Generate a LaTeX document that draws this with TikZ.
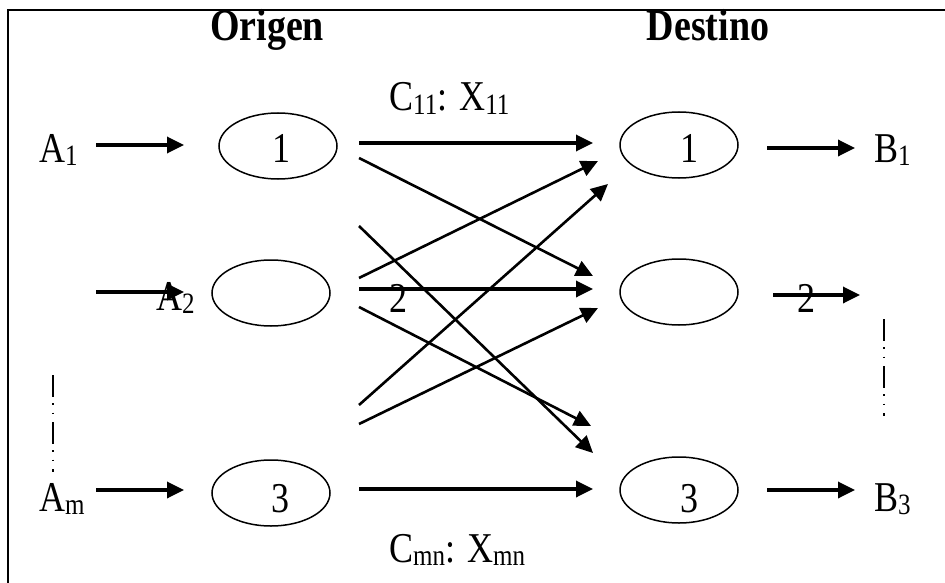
\documentclass[tikz,border=0pt]{standalone}
\usepackage{fontspec}
\usepackage{graphicx}
\setmainfont{Liberation Serif}
\usetikzlibrary{arrows.meta,shapes.geometric}
\newcommand\tallt[1]{\scalebox{1}[1.18]{#1}}
\newcommand\lowsub[1]{\raisebox{-0.08em}{\fontsize{25}{25}\selectfont #1}}
\begin{document}
\begin{tikzpicture}[x=1pt,y=-1pt,
  txt/.style={font=\fontsize{36}{40}\selectfont, inner sep=0pt},
  ttl/.style={font=\fontsize{38}{40}\selectfont\bfseries, inner sep=0pt},
  oval/.style={draw, ellipse, line width=1.5pt, minimum width=118pt, minimum height=66pt, inner sep=0pt},
  harr/.style={line width=3.4pt, -{Triangle[length=17pt,width=16pt]}},
  darr/.style={line width=2.6pt, -{Triangle[length=17pt,width=16pt]}},
  vdots/.style={line width=1.5pt, dash pattern=on 22pt off 6pt on 1.5pt off 8pt on 1.5pt off 8pt}]
\useasboundingbox (0,0) rectangle (945,583);
\draw[line width=2.5pt] (8,583) -- (8,10) -- (945,10);
% titles
\node[ttl, anchor=base] (torig) at (267,41) {\tallt{Origen}};
\node[ttl, anchor=base] (tdest) at (708,41) {\tallt{Destino}};
\node[txt, anchor=base west] (c11) at (389,111) {\tallt{C\lowsub{11}: X\lowsub{11}}};
\node[txt, anchor=base west] (cmn) at (389,562) {\tallt{C\lowsub{mn}: X\lowsub{mn}}};
% ellipses
\node[oval] (o1) at (278,146) {};
\node[oval] (o2) at (271,293) {};
\node[oval] (o3) at (271,493) {};
\node[oval] (d1) at (679,145) {};
\node[oval] (d2) at (679,292) {};
\node[oval] (d3) at (679,490) {};
\node[txt, anchor=base] (o1n) at (281,162) {\tallt{1}};
\node[txt, anchor=base] (o3n) at (280,512) {\tallt{3}};
\node[txt, anchor=base] (d1n) at (689,162) {\tallt{1}};
\node[txt, anchor=base] (d3n) at (689,512) {\tallt{3}};
\node[txt, anchor=base] (m2) at (398,312) {\tallt{2}};
\node[txt, anchor=base] (r2) at (806,312) {\tallt{2}};
% left labels
\node[txt, anchor=base west] (a1) at (39,162) {\tallt{A\lowsub{1}}};
\node[txt, anchor=base west] (a2) at (156,310) {\tallt{A\lowsub{2}}};
\node[txt, anchor=base west] (am) at (39,511) {\tallt{A\lowsub{m}}};
\node[txt, anchor=base west] (b1) at (874,162) {\tallt{B\lowsub{1}}};
\node[txt, anchor=base west] (b3) at (874,511) {\tallt{B\lowsub{3}}};
% coordinates
\coordinate (ia1s) at (96,145); \coordinate (ia1e) at (184,145);
\coordinate (ia2s) at (96,292); \coordinate (ia2e) at (184,292);
\coordinate (iams) at (96,490); \coordinate (iame) at (184,490);
\coordinate (ob1s) at (767,148); \coordinate (ob1e) at (855,148);
\coordinate (ob2s) at (773,295); \coordinate (ob2e) at (860,295);
\coordinate (ob3s) at (767,490); \coordinate (ob3e) at (855,490);
\coordinate (s1) at (359,143); \coordinate (e1) at (593,143);
\coordinate (s2) at (359,158); \coordinate (e2) at (593,276);
\coordinate (s3) at (359,278); \coordinate (e3) at (598,161);
\coordinate (s4) at (359,289); \coordinate (e4) at (593,289);
\coordinate (s5) at (359,307); \coordinate (e5) at (591,426);
\coordinate (s6) at (359,226); \coordinate (e6) at (593,453);
\coordinate (s7) at (359,405); \coordinate (e7) at (608,184);
\coordinate (s8) at (359,424); \coordinate (e8) at (598,308);
\coordinate (s9) at (359,489); \coordinate (e9) at (593,489);
\coordinate (lv1) at (53,375); \coordinate (lv2) at (53,472);
\coordinate (rv1) at (884,319); \coordinate (rv2) at (884,416);
% arrows
\draw[harr] (ia1s) -- (ia1e);
\draw[harr] (ia2s) -- (ia2e);
\draw[harr] (iams) -- (iame);
\draw[harr] (ob1s) -- (ob1e);
\draw[harr] (ob2s) -- (ob2e);
\draw[harr] (ob3s) -- (ob3e);
\draw[harr] (s1) -- (e1);
\draw[darr] (s2) -- (e2);
\draw[darr] (s3) -- (e3);
\draw[harr] (s4) -- (e4);
\draw[darr] (s5) -- (e5);
\draw[darr] (s6) -- (e6);
\draw[darr] (s7) -- (e7);
\draw[darr] (s8) -- (e8);
\draw[harr] (s9) -- (e9);
\draw[vdots] (lv1) -- (lv2);
\draw[vdots] (rv1) -- (rv2);
\end{tikzpicture}
\end{document}
